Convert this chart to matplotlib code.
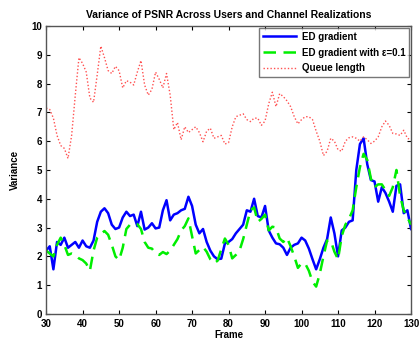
#!/usr/bin/env python3
"""
Variance of PSNR across users and channel realizations
"""
import matplotlib
matplotlib.use("Agg")
import matplotlib.pyplot as plt
import numpy as np

frames = np.arange(30, 131)

ed_gradient = [
    2.2, 2.35, 1.55, 2.5, 2.4, 2.65, 2.3, 2.4, 2.5, 2.3,
    2.55, 2.35, 2.3, 2.55, 3.2, 3.55, 3.67, 3.5, 3.1, 2.95,
    3.0, 3.35, 3.55, 3.4, 3.45, 3.05, 3.55, 2.93, 3.0, 3.15,
    2.97, 3.0, 3.6, 3.95, 3.25, 3.45, 3.5, 3.6, 3.65, 4.07,
    3.75, 3.1, 2.8, 2.95, 2.5, 2.2, 2.0, 1.9, 1.92, 2.45,
    2.5, 2.6, 2.8, 2.95, 3.1, 3.6, 3.55, 4.0, 3.4, 3.35,
    3.75, 2.9, 2.65, 2.45, 2.42, 2.3, 2.05, 2.3, 2.4, 2.45,
    2.65, 2.55, 2.27, 1.9, 1.55, 1.9, 2.3, 2.6, 3.35, 2.8,
    2.0, 2.9, 3.0, 3.2, 3.25, 5.0, 5.9, 6.1, 5.2, 4.65,
    4.6, 3.9, 4.4, 4.2, 3.9, 3.55, 4.45, 4.5, 3.5, 3.6,
    2.95,
]

ed_gradient_eps = [
    2.2, 2.1, 2.0, 2.4, 2.65, 2.4, 2.05, 2.1, 2.05, 1.93,
    1.87, 1.75, 1.5, 2.2, 2.65, 2.78, 2.88, 2.75, 2.4, 2.0,
    1.87, 2.3, 2.95, 3.1, 3.15, 3.12, 2.95, 2.5, 2.3, 2.27,
    2.1, 2.05, 2.15, 2.08, 2.2, 2.4, 2.6, 2.9, 3.05, 3.32,
    2.7, 2.1, 2.22, 2.33, 2.16, 1.9, 1.76, 1.85, 2.25, 2.62,
    2.4, 1.93, 2.05, 2.2, 2.6, 3.1, 3.6, 3.7, 3.2, 3.3,
    3.45, 2.9, 3.03, 3.0, 2.62, 2.5, 2.65, 2.35, 2.0, 1.6,
    1.76, 1.75, 1.5, 1.12, 0.95, 1.4, 2.0, 2.55, 2.55, 2.16,
    1.9, 2.7, 3.1, 3.3, 3.6, 4.4, 5.1, 5.56, 5.35, 4.7,
    4.4, 4.5, 4.5, 4.3, 4.1, 4.4, 5.0, 4.1, 3.6, 3.35,
    3.1,
]

queue_length = [
    7.15, 7.1, 6.8, 6.2, 5.85, 5.75, 5.4, 6.2, 7.6, 8.9,
    8.7, 8.4, 7.5, 7.35, 8.3, 9.3, 8.9, 8.45, 8.35, 8.6,
    8.45, 7.85, 8.1, 8.05, 7.95, 8.4, 8.8, 7.95, 7.6, 7.8,
    8.4, 8.15, 7.85, 8.35, 7.6, 6.4, 6.65, 6.05, 6.5, 6.3,
    6.4, 6.5, 6.3, 5.98, 6.35, 6.45, 6.1, 6.15, 6.2, 5.9,
    5.95, 6.5, 6.85, 6.9, 6.95, 6.75, 6.68, 6.8, 6.8, 6.55,
    6.7, 7.3, 7.7, 7.2, 7.65, 7.55, 7.4, 7.2, 6.85, 6.6,
    6.75, 6.85, 6.85, 6.75, 6.35, 6.0, 5.5, 5.65, 6.1, 6.0,
    5.7, 5.65, 6.0, 6.12, 6.15, 6.1, 6.0, 6.15, 6.05, 5.92,
    6.0, 6.15, 6.5, 6.7, 6.55, 6.27, 6.25, 6.2, 6.38, 6.1,
    6.05,
]


def format_plotting():
    plt.rcParams['font.family'] = ['Liberation Sans', 'DejaVu Sans']
    plt.rcParams['font.weight'] = 'bold'
    plt.rcParams['font.size'] = 7
    plt.rcParams['xtick.direction'] = 'in'
    plt.rcParams['ytick.direction'] = 'in'
    plt.rcParams['xtick.top'] = True
    plt.rcParams['ytick.right'] = True
    plt.rcParams['xtick.major.size'] = 3
    plt.rcParams['ytick.major.size'] = 3
    plt.rcParams['axes.linewidth'] = 1.0
    plt.rcParams['axes.edgecolor'] = '#555555'


def main():
    format_plotting()
    fig = plt.figure(figsize=(4.19, 3.42), dpi=100)
    ax = fig.add_axes([0.110, 0.082, 0.871, 0.842])

    ax.plot(frames, ed_gradient, color="#0000ff", lw=1.8,
            label="ED gradient")
    ax.plot(frames, ed_gradient_eps, color="#00ee00", lw=1.8,
            ls=(0, (5, 3)), label="ED gradient with \u03b5=0.1")
    ax.plot(frames, queue_length, color="#ff5050", lw=1.0,
            ls=(0, (1, 1.5)), label="Queue length")

    ax.set_xlim(30, 130)
    ax.set_ylim(0, 10)
    ax.set_xticks(np.arange(30, 131, 10))
    ax.set_yticks(np.arange(0, 11, 1))
    ax.tick_params(axis='x', pad=3.5, labelsize=7)
    ax.tick_params(axis='y', pad=3, labelsize=7)
    ax.set_xlabel("Frame", fontsize=7, fontweight='bold', labelpad=1)
    ax.set_ylabel("Variance", fontsize=7, fontweight='bold', labelpad=8)
    ax.set_title("Variance of PSNR Across Users and Channel Realizations",
                 fontsize=7.5, fontweight='bold', pad=6)

    leg = ax.legend(loc="upper right", fontsize=7, frameon=True,
                    fancybox=False, borderaxespad=0.2, handlelength=3.4,
                    handletextpad=0.6, borderpad=0.4, labelspacing=0.6)
    leg.get_frame().set_edgecolor('#555555')
    leg.get_frame().set_linewidth(1.0)

    fig.savefig("out.png", dpi=100)


if __name__ == "__main__":
    main()
